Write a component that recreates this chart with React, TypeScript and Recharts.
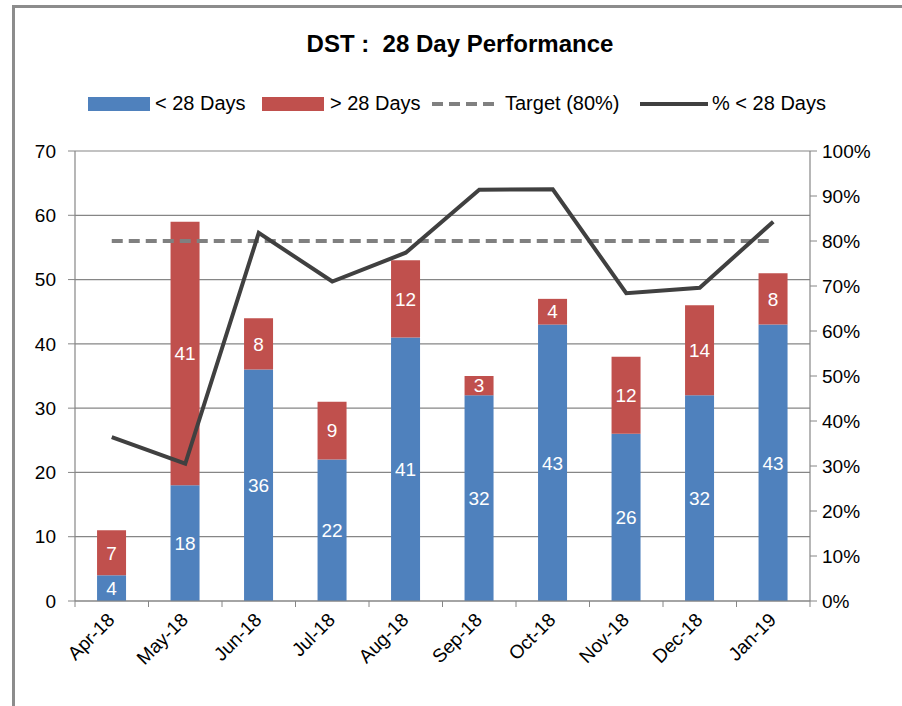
import React from 'react'
import { ComposedChart, Bar, Line, XAxis, YAxis, CartesianGrid, LabelList } from 'recharts'

// 月份
const months = ['Apr-18', 'May-18', 'Jun-18', 'Jul-18', 'Aug-18', 'Sep-18', 'Oct-18', 'Nov-18', 'Dec-18', 'Jan-19']
// < 28 天
const under28 = [4, 18, 36, 22, 41, 32, 43, 26, 32, 43]
// > 28 天
const over28 = [7, 41, 8, 9, 12, 3, 4, 12, 14, 8]
// 目标 80%
const target = [80, 80, 80, 80, 80, 80, 80, 80, 80, 80]
// % < 28 天
const pctUnder28 = [36.4, 30.5, 81.8, 71.0, 77.4, 91.4, 91.5, 68.4, 69.6, 84.3]

const leftTicks = [0, 10, 20, 30, 40, 50, 60, 70]
const rightTicks = [0, 10, 20, 30, 40, 50, 60, 70, 80, 90, 100]

const BLUE = '#4F81BD'
const RED = '#C0504D'
const AXIS = '#868686'
const FONT = '"Liberation Sans", Arial, sans-serif'

const W = 902
const H = 706
const PLOT_LEFT = 75
const PLOT_RIGHT = 92
const PLOT_TOP = 151
const X_HEIGHT = 105
const BAND = (W - PLOT_LEFT - PLOT_RIGHT) / months.length

const data = months.map((m, i) => ({
  month: m,
  under: under28[i],
  over: over28[i],
  target: target[i],
  pct: pctUnder28[i],
}))

const MonthTick = ({ x, y, payload, index }: any) => {
  const left = x - BAND / 2
  return (
    <g>
      <line x1={left} y1={y - 8} x2={left} y2={y - 2} stroke={AXIS} />
      {index === months.length - 1 && (
        <line x1={x + BAND / 2} y1={y - 8} x2={x + BAND / 2} y2={y - 2} stroke={AXIS} />
      )}
      <text
        x={x + 4}
        y={y + 12}
        textAnchor="end"
        fontSize={19}
        fontFamily={FONT}
        fill="#000"
        transform={`rotate(-45, ${x + 4}, ${y + 12})`}
      >
        {payload.value}
      </text>
    </g>
  )
}

const legendItems = [
  { label: '< 28 Days', kind: 'bar', color: BLUE, left: 88, textLeft: 155 },
  { label: '> 28 Days', kind: 'bar', color: RED, left: 262, textLeft: 330 },
  { label: 'Target (80%)', kind: 'dash', color: '#808080', left: 432, textLeft: 505 },
  { label: '% < 28 Days', kind: 'line', color: '#404040', left: 640, textLeft: 712 },
]

export default function App() {
  return (
    <div style={{ position: 'absolute', left: 0, top: 0, width: W, height: H, overflow: 'hidden', background: '#fff', fontFamily: FONT }}>
      <div
        style={{
          position: 'absolute',
          left: 12,
          top: 5,
          width: 1000,
          height: 1000,
          borderLeft: '3px solid #8c8c8c',
          borderTop: '3px solid #8c8c8c',
        }}
      />
      <div
        style={{
          position: 'absolute',
          left: 0,
          width: 920,
          top: 30,
          textAlign: 'center',
          fontWeight: 'bold',
          fontSize: 24,
          color: '#000',
        }}
      >
        DST :&nbsp; 28 Day Performance
      </div>
      {legendItems.map((it) => (
        <React.Fragment key={it.label}>
          {it.kind === 'bar' && (
            <div style={{ position: 'absolute', left: it.left, top: 97, width: 62, height: 14, background: it.color }} />
          )}
          {it.kind === 'dash' && (
            <svg style={{ position: 'absolute', left: it.left, top: 100 }} width={68} height={8}>
              <line x1={0} y1={4} x2={68} y2={4} stroke={it.color} strokeWidth={4} strokeDasharray="11 6" />
            </svg>
          )}
          {it.kind === 'line' && (
            <svg style={{ position: 'absolute', left: it.left, top: 100 }} width={68} height={8}>
              <line x1={0} y1={4} x2={68} y2={4} stroke={it.color} strokeWidth={4} />
            </svg>
          )}
          <div style={{ position: 'absolute', left: it.textLeft, top: 92, fontSize: 20, color: '#000', whiteSpace: 'nowrap' }}>
            {it.label}
          </div>
        </React.Fragment>
      ))}
      <div style={{ position: 'absolute', left: 0, top: 0 }}>
        <ComposedChart
          width={W}
          height={H}
          data={data}
          margin={{ top: PLOT_TOP, right: 0, bottom: 0, left: 0 }}
          barCategoryGap="30%"
        >
          <CartesianGrid yAxisId="left" vertical={false} stroke={AXIS} strokeWidth={1.2} />
          <XAxis
            dataKey="month"
            xAxisId={0}
            height={X_HEIGHT}
            interval={0}
            axisLine={{ stroke: AXIS, strokeWidth: 1.2 }}
            tickLine={false}
            tick={<MonthTick />}
          />
          <YAxis
            yAxisId="left"
            orientation="left"
            width={PLOT_LEFT}
            domain={[0, 70]}
            ticks={leftTicks}
            interval={0}
            axisLine={{ stroke: AXIS, strokeWidth: 1.2 }}
            tickLine={{ stroke: AXIS }}
            tickSize={7}
            tickMargin={12}
            tick={{ fontSize: 19, fill: '#000', fontFamily: FONT }}
          />
          <YAxis
            yAxisId="right"
            orientation="right"
            width={PLOT_RIGHT}
            domain={[0, 100]}
            ticks={rightTicks}
            interval={0}
            tickFormatter={(v: number) => `${v}%`}
            axisLine={{ stroke: AXIS, strokeWidth: 1.2 }}
            tickLine={{ stroke: AXIS }}
            tickSize={7}
            tickMargin={5}
            tick={{ fontSize: 19, fill: '#000', fontFamily: FONT }}
          />
          <Bar yAxisId="left" dataKey="under" stackId="a" fill={BLUE} isAnimationActive={false}>
            <LabelList dataKey="under" position="center" fill="#fff" fontSize={19} fontFamily={FONT} />
          </Bar>
          <Bar yAxisId="left" dataKey="over" stackId="a" fill={RED} isAnimationActive={false}>
            <LabelList dataKey="over" position="center" fill="#fff" fontSize={19} fontFamily={FONT} />
          </Bar>
          <Line
            yAxisId="right"
            dataKey="target"
            stroke="#808080"
            strokeWidth={4}
            strokeDasharray="11 6"
            dot={false}
            activeDot={false}
            isAnimationActive={false}
          />
          <Line
            yAxisId="right"
            dataKey="pct"
            stroke="#404040"
            strokeWidth={4}
            dot={false}
            activeDot={false}
            isAnimationActive={false}
          />
        </ComposedChart>
      </div>
    </div>
  )
}
